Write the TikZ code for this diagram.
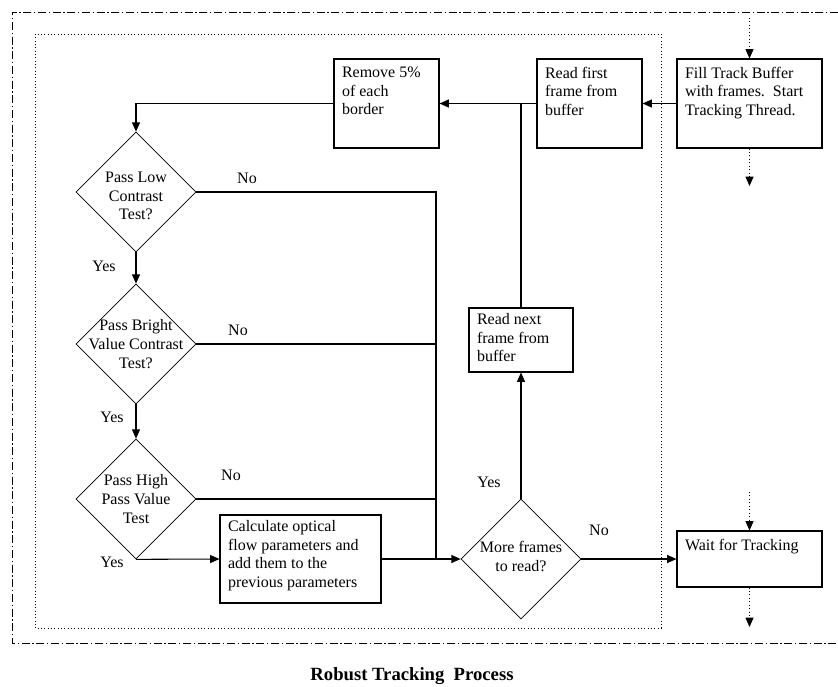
\documentclass[tikz,border=0pt]{standalone}
\usepackage{fontspec}
\setmainfont{Liberation Serif}
\usetikzlibrary{shapes.geometric,arrows.meta}

\newcommand{\boxtext}[3]{\parbox[c][#2][t]{#1}{\raggedright #3}}

\begin{document}
\begin{tikzpicture}[x=0.75pt, y=-0.75pt,
  font=\fontsize{12}{14}\selectfont,
  procbox/.style={draw, line width=0.8pt, inner xsep=6pt, inner ysep=6pt},
  decision/.style={diamond, draw, line width=0.5pt, minimum width=90pt, minimum height=90pt, inner sep=0pt},
  flow/.style={line width=0.8pt, -{Triangle[length=7pt,width=6pt]}},
  dotflow/.style={dotted, line width=0.6pt, -{Triangle[length=7pt,width=6pt]}},
  ans/.style={inner sep=0pt}]
  \useasboundingbox (0,0) rectangle (838,686);

  % outer and inner frames
  \draw[line width=0.6pt, dash pattern=on 6pt off 2pt on 1pt off 2pt] (838,12) -- (12,12) -- (12,643) -- (838,643);
  \draw[dotted, line width=0.5pt] (35,34) rectangle (661,628);

  % process boxes
  \node[procbox] (fill) at (749.5,103.5) {\boxtext{96.75pt}{54.75pt}{Fill Track Buffer\\with frames.\ \ Start\\Tracking Thread.}};
  \node[procbox] (first) at (589.5,103.5) {\boxtext{66.75pt}{54.75pt}{Read first\\frame from\\buffer}};
  \node[procbox] (remove) at (386.5,103.5) {\boxtext{66.75pt}{54.75pt}{Remove 5\%\\of each\\border}};
  \node[procbox, inner ysep=4pt] (next) at (521,340) {\boxtext{66pt}{40pt}{Read next\\frame from\\buffer}};
  \node[procbox, inner ysep=4pt] (calc) at (300.5,559) {\boxtext{108.75pt}{58pt}{Calculate optical\\flow parameters and\\add them to the\\previous parameters}};
  \node[procbox] (wait) at (749.5,559) {\boxtext{96.75pt}{30pt}{Wait for Tracking}};

  % decisions
  \node[decision, label={[align=center, yshift=-3pt]center:Pass Low\\Contrast\\Test?}] (low) at (136,192) {};
  \node[decision, label={[align=center]center:Pass Bright\\Value Contrast\\Test?}] (bright) at (136,344) {};
  \node[decision, label={[align=center]center:Pass High\\Pass Value\\Test}] (high) at (136,499) {};
  \node[decision, label={[align=center, yshift=2pt]center:More frames\\to read?}] (more) at (521,559) {};

  % loose ends
  \coordinate (fillin) at (749.5,18);
  \coordinate (fillout) at (749.5,186);
  \coordinate (waitin) at (749.5,492);
  \coordinate (waitout) at (749.5,627);
  \coordinate (join) at (436,559);

  % connectors
  \draw[dotflow] (fillin) -- (fill.north);
  \draw[dotflow] (fill.south) -- (fillout);
  \draw[flow] (fill.west) -- (first.east);
  \draw[flow] (first.west) -- (remove.east);
  \draw[flow] (remove.west) -| (low.north);
  \draw[flow] (low.south) -- (bright.north);
  \draw[flow] (bright.south) -- (high.north);
  \draw[flow] (high.south) -- (calc.west);
  \draw[flow] (calc.east) -- (more.west);
  \draw[line width=0.8pt] (low.east) -| (join);
  \draw[line width=0.8pt] (bright.east) -- (bright.east -| join);
  \draw[line width=0.8pt] (high.east) -- (high.east -| join);
  \draw[flow] (more.north) -- (next.south);
  \draw[line width=0.8pt] (next.north) -- (next.north |- first.west);
  \draw[flow] (more.east) -- (wait.west);
  \draw[dotflow] (waitin) -- (wait.north);
  \draw[dotflow] (wait.south) -- (waitout);

  % answers
  \node[ans] (no1) at (247,178) {No};
  \node[ans] (no2) at (238,330) {No};
  \node[ans] (no3) at (231,475) {No};
  \node[ans] (no4) at (599,530) {No};
  \node[ans] (yes1) at (104,266) {Yes};
  \node[ans] (yes2) at (112,417) {Yes};
  \node[ans] (yes3) at (112,562) {Yes};
  \node[ans] (yes4) at (489,482) {Yes};

  % caption
  \node[font=\fontsize{14}{16}\selectfont\bfseries] (title) at (412,676) {Robust Tracking\ \ Process};
\end{tikzpicture}
\end{document}
